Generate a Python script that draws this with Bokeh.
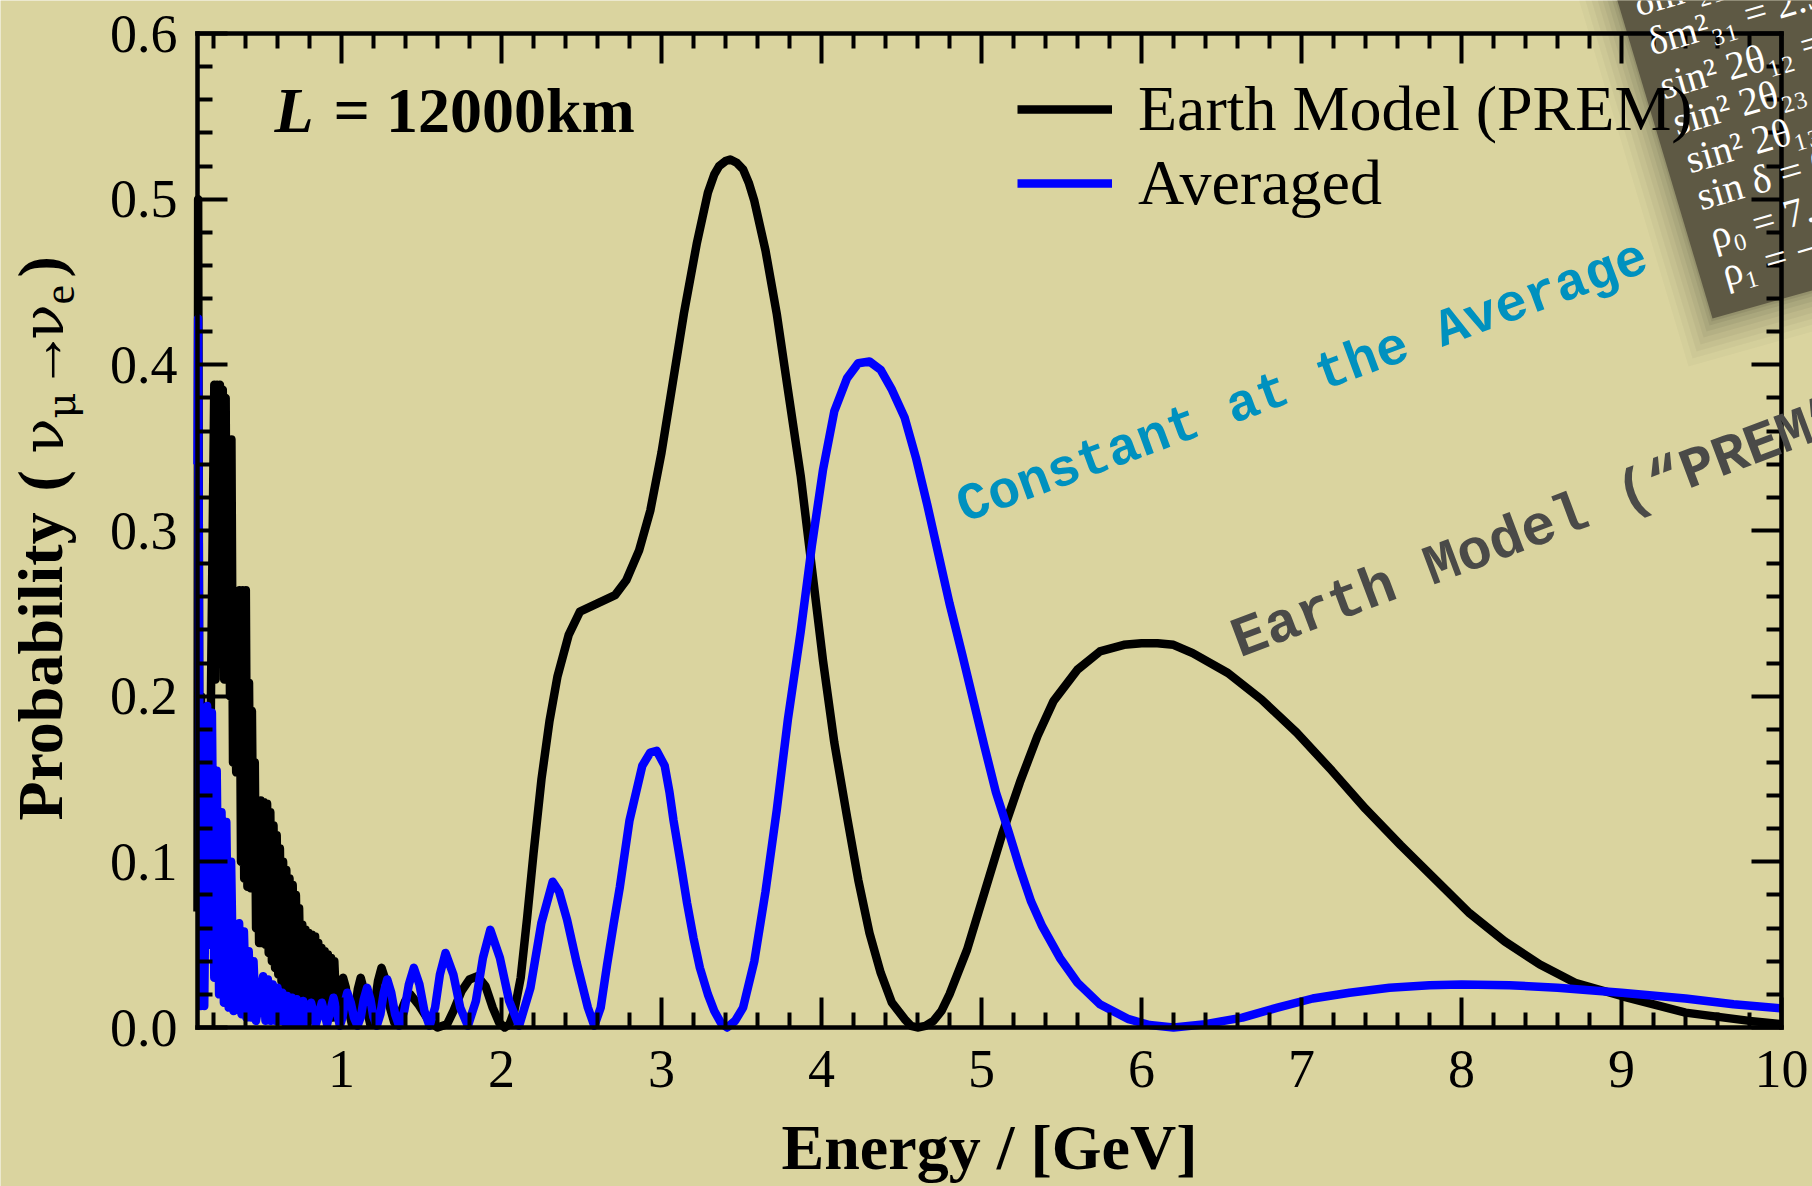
import math
from bokeh.plotting import figure
from bokeh.models import (Range1d, LinearAxis, FixedTicker, Legend, LegendItem,
                          Label, PolyAnnotation, PrintfTickFormatter)
from bokeh.embed import file_html
from bokeh.resources import INLINE

# ---------------- data ----------------
energy_prem = [
    0.100, 0.104, 0.110, 0.116, 0.122, 0.130, 0.140, 0.150, 0.160, 0.172,
    0.185, 0.195, 0.205, 0.213, 0.222, 0.231, 0.240, 0.249, 0.258, 0.267,
    0.276, 0.285, 0.294, 0.303, 0.312, 0.322, 0.332, 0.342, 0.352, 0.362,
    0.372, 0.382, 0.392, 0.402, 0.412, 0.422, 0.432, 0.440, 0.450, 0.458,
    0.466, 0.475, 0.485, 0.495, 0.505, 0.515, 0.525, 0.535, 0.545, 0.555,
    0.565, 0.575, 0.585, 0.595, 0.605, 0.615, 0.625, 0.635, 0.645, 0.655,
    0.665, 0.675, 0.685, 0.695, 0.705, 0.715, 0.725, 0.735, 0.745, 0.755,
    0.765, 0.775, 0.785, 0.795, 0.805, 0.815, 0.825, 0.835, 0.845, 0.855,
    0.865, 0.875, 0.885, 0.895, 0.905, 0.915, 0.925, 0.935, 0.945, 0.955,
    0.970, 0.985, 0.997, 1.010, 1.027, 1.046, 1.065, 1.084, 1.102, 1.120,
    1.139, 1.160, 1.180, 1.205, 1.228, 1.250, 1.277, 1.303, 1.330, 1.365,
    1.398, 1.430, 1.480, 1.540, 1.600, 1.660, 1.700, 1.750, 1.800, 1.850,
    1.900, 1.945, 1.985, 2.020, 2.050, 2.080, 2.120, 2.160, 2.200, 2.250,
    2.300, 2.350, 2.420, 2.490, 2.600, 2.710, 2.780, 2.860, 2.930, 3.000,
    3.070, 3.140, 3.220, 3.290, 3.330, 3.360, 3.400, 3.430, 3.470, 3.510,
    3.545, 3.580, 3.650, 3.720, 3.790, 3.870, 3.940, 4.010, 4.080, 4.160,
    4.230, 4.300, 4.370, 4.440, 4.520, 4.560, 4.600, 4.650, 4.700, 4.750,
    4.800, 4.910, 5.020, 5.130, 5.240, 5.350, 5.450, 5.600, 5.740, 5.890,
    6.000, 6.100, 6.200, 6.320, 6.540, 6.750, 6.970, 7.190, 7.400, 7.620,
    7.840, 8.050, 8.270, 8.490, 8.710, 9.000, 9.400, 9.800, 10.00,
]
prob_prem = [
    0.070, 0.500, 0.210, 0.070, 0.200, 0.100, 0.140, 0.050, 0.100, 0.060,
    0.210, 0.300, 0.388, 0.210, 0.388, 0.220, 0.388, 0.220, 0.385, 0.210,
    0.380, 0.210, 0.355, 0.200, 0.355, 0.160, 0.200, 0.154, 0.200, 0.264,
    0.100, 0.264, 0.090, 0.264, 0.085, 0.208, 0.084, 0.191, 0.085, 0.160,
    0.060, 0.137, 0.051, 0.137, 0.051, 0.136, 0.050, 0.135, 0.045, 0.130,
    0.040, 0.122, 0.036, 0.116, 0.032, 0.108, 0.028, 0.100, 0.025, 0.095,
    0.022, 0.090, 0.022, 0.086, 0.022, 0.080, 0.020, 0.072, 0.018, 0.062,
    0.016, 0.059, 0.016, 0.057, 0.015, 0.056, 0.014, 0.055, 0.012, 0.051,
    0.010, 0.048, 0.008, 0.046, 0.007, 0.044, 0.006, 0.042, 0.006, 0.040,
    0.006, 0.016, 0.026, 0.030, 0.024, 0.010, 0.002, 0.010, 0.023, 0.030,
    0.023, 0.010, 0.002, 0.012, 0.028, 0.036, 0.028, 0.012, 0.003, 0.008,
    0.016, 0.020, 0.014, 0.005, 0.000, 0.002, 0.010, 0.022, 0.029, 0.031,
    0.025, 0.012, 0.003, 0.000, 0.002, 0.010, 0.030, 0.066, 0.105, 0.150,
    0.185, 0.212, 0.237, 0.251, 0.256, 0.261, 0.270, 0.288, 0.312, 0.347,
    0.389, 0.431, 0.473, 0.504, 0.515, 0.520, 0.523, 0.524, 0.522, 0.518,
    0.510, 0.499, 0.469, 0.431, 0.385, 0.333, 0.277, 0.221, 0.172, 0.127,
    0.089, 0.057, 0.033, 0.015, 0.005, 0.001, 0.000, 0.001, 0.004, 0.010,
    0.020, 0.047, 0.082, 0.117, 0.148, 0.176, 0.197, 0.216, 0.227, 0.231,
    0.232, 0.232, 0.231, 0.226, 0.214, 0.198, 0.178, 0.155, 0.132, 0.110,
    0.089, 0.069, 0.052, 0.038, 0.027, 0.019, 0.009, 0.004, 0.002,
]

energy_avg = [
    0.100, 0.104, 0.112, 0.120, 0.130, 0.142, 0.160, 0.175, 0.190, 0.205,
    0.220, 0.235, 0.250, 0.265, 0.280, 0.295, 0.310, 0.325, 0.340, 0.360,
    0.375, 0.390, 0.405, 0.420, 0.435, 0.450, 0.465, 0.480, 0.510, 0.525,
    0.540, 0.555, 0.570, 0.585, 0.600, 0.615, 0.630, 0.645, 0.660, 0.675,
    0.690, 0.705, 0.720, 0.740, 0.760, 0.785, 0.810, 0.840, 0.877, 0.910,
    0.950, 0.990, 1.006, 1.020, 1.036, 1.058, 1.078, 1.100, 1.121, 1.139,
    1.160, 1.181, 1.199, 1.220, 1.243, 1.264, 1.286, 1.311, 1.335, 1.360,
    1.392, 1.421, 1.452, 1.487, 1.518, 1.550, 1.585, 1.615, 1.650, 1.699,
    1.742, 1.790, 1.840, 1.884, 1.930, 1.990, 2.048, 2.110, 2.181, 2.249,
    2.320, 2.360, 2.410, 2.470, 2.540, 2.580, 2.620, 2.660, 2.700, 2.740,
    2.800, 2.880, 2.930, 2.970, 3.020, 3.050, 3.075, 3.120, 3.160, 3.200,
    3.240, 3.290, 3.330, 3.370, 3.410, 3.460, 3.510, 3.580, 3.650, 3.720,
    3.790, 3.870, 3.940, 4.010, 4.080, 4.160, 4.230, 4.300, 4.370, 4.440,
    4.520, 4.590, 4.660, 4.730, 4.800, 4.880, 4.950, 5.020, 5.090, 5.170,
    5.240, 5.310, 5.380, 5.490, 5.600, 5.740, 5.920, 6.050, 6.200, 6.400,
    6.630, 6.850, 7.070, 7.300, 7.550, 7.800, 8.000, 8.300, 8.600, 9.000,
    9.400, 9.700, 10.00,
]
prob_avg = [
    0.340, 0.428, 0.160, 0.013, 0.090, 0.013, 0.194, 0.050, 0.190, 0.030,
    0.155, 0.020, 0.130, 0.015, 0.124, 0.012, 0.100, 0.010, 0.030, 0.063,
    0.008, 0.058, 0.006, 0.046, 0.006, 0.040, 0.004, 0.012, 0.031, 0.004,
    0.029, 0.004, 0.026, 0.004, 0.024, 0.004, 0.021, 0.003, 0.019, 0.003,
    0.018, 0.003, 0.017, 0.002, 0.016, 0.002, 0.015, 0.002, 0.015, 0.002,
    0.018, 0.001, 0.006, 0.015, 0.021, 0.015, 0.006, 0.001, 0.0065, 0.017,
    0.024, 0.017, 0.0065, 0.001, 0.008, 0.021, 0.029, 0.021, 0.008, 0.001,
    0.010, 0.026, 0.036, 0.026, 0.010, 0.001, 0.012, 0.032, 0.045, 0.032,
    0.012, 0.001, 0.016, 0.042, 0.059, 0.042, 0.016, 0.001, 0.024, 0.063,
    0.088, 0.082, 0.065, 0.039, 0.012, 0.001, 0.012, 0.038, 0.062, 0.085,
    0.125, 0.158, 0.166, 0.167, 0.158, 0.142, 0.125, 0.099, 0.075, 0.054,
    0.036, 0.020, 0.010, 0.003, 0.000, 0.004, 0.012, 0.040, 0.082, 0.131,
    0.186, 0.239, 0.291, 0.337, 0.372, 0.392, 0.401, 0.402, 0.397, 0.385,
    0.368, 0.344, 0.316, 0.286, 0.256, 0.225, 0.197, 0.169, 0.142, 0.118,
    0.096, 0.076, 0.061, 0.042, 0.027, 0.014, 0.005, 0.0015, 0.000, 0.002,
    0.006, 0.012, 0.0175, 0.021, 0.024, 0.0255, 0.026, 0.0255, 0.024, 0.021,
    0.0175, 0.014, 0.0115,
]

series_labels = ["Earth Model (PREM)", "Averaged"]
x_major_ticks = [1, 2, 3, 4, 5, 6, 7, 8, 9, 10]
y_major_ticks = [0.0, 0.1, 0.2, 0.3, 0.4, 0.5, 0.6]

# ---------------- geometry / styling ----------------
BG = "#DAD49F"
W, H = 1812, 1186
X0, X1, Y0, Y1 = 0.1, 10.0, 0.0, 0.6          # axis box in data units
FL, FR, FT, FB = 197, 1781, 33, 1027           # axis box on the canvas (px)
kx = (FR - FL) / (X1 - X0)
ky = (FB - FT) / (Y1 - Y0)
x_range = Range1d(X0 - FL / kx, X1 + (W - FR) / kx)
y_range = Range1d(Y0 - (H - FB) / ky, Y1 + FT / ky)

p = figure(width=W, height=H, x_range=x_range, y_range=y_range,
           output_backend="svg", toolbar_location=None,
           x_axis_location=None, y_axis_location=None,
           min_border=0, min_border_left=0, min_border_right=0,
           min_border_top=0, min_border_bottom=0,
           background_fill_color=BG, border_fill_color=BG, outline_line_color=None)
p.xgrid.visible = False
p.ygrid.visible = False

serif = "Liberation Serif"


def sx(cx):
    return cx


def sy(cy):
    return H - cy


x_minor = [round(0.2 * i, 1) for i in range(1, 51) if (i % 5) != 0]
y_minor = [round(0.02 * i, 2) for i in range(1, 30) if (i % 5) != 0]


def make_axis(fixed, bounds, major, minor, labels):
    ax = LinearAxis(fixed_location=fixed, bounds=bounds,
                    ticker=FixedTicker(ticks=major, minor_ticks=minor))
    ax.axis_line_width = 4.5
    ax.axis_line_color = "black"
    ax.axis_line_cap = "square"
    ax.major_tick_in = 30
    ax.major_tick_out = 0
    ax.minor_tick_in = 15
    ax.minor_tick_out = 0
    ax.major_tick_line_width = 4
    ax.minor_tick_line_width = 4
    ax.major_tick_line_color = "black"
    ax.minor_tick_line_color = "black"
    if labels:
        ax.major_label_text_font = serif
        ax.major_label_text_font_size = "54px"
        ax.major_label_text_color = "black"
    else:
        ax.major_label_text_color = None
    return ax


bottom_ax = make_axis(Y0, (X0, X1), x_major_ticks, x_minor, True)
bottom_ax.major_label_standoff = 23
bottom_ax.axis_label = "Energy / [GeV]"
bottom_ax.axis_label_text_font = serif
bottom_ax.axis_label_text_font_style = "bold"
bottom_ax.axis_label_text_font_size = "64px"
bottom_ax.axis_label_text_color = "black"
bottom_ax.axis_label_standoff = 22
p.add_layout(bottom_ax, "below")

left_ax = make_axis(X0, (Y0, Y1), y_major_ticks, y_minor, True)
left_ax.major_label_standoff = 20
left_ax.formatter = PrintfTickFormatter(format="%.1f")
p.add_layout(left_ax, "left")

p.add_layout(make_axis(Y1, (X0, X1), x_major_ticks, x_minor, False), "above")
p.add_layout(make_axis(X1, (Y0, Y1), y_major_ticks, y_minor, False), "right")

# ---------------- parameter card (top right) ----------------
card = [(1587, -100), (1712, 318), (1900, 265), (1900, -100)]
for dx, dy, a in [(-24, 48, 0.025), (-20, 40, 0.03), (-16, 33, 0.035), (-12, 26, 0.04),
                  (-9, 19, 0.045), (-6, 13, 0.05), (-3, 7, 0.06), (-1, 3, 0.07)]:
    p.add_layout(PolyAnnotation(xs=[sx(x + dx) for x, _ in card], ys=[sy(y + dy) for _, y in card],
                                xs_units="screen", ys_units="screen",
                                fill_color="black", fill_alpha=a, line_alpha=0, level="underlay"))
p.add_layout(PolyAnnotation(xs=[sx(x) for x, _ in card], ys=[sy(y) for _, y in card],
                            xs_units="screen", ys_units="screen",
                            fill_color="#5E5944", fill_alpha=1, line_alpha=0, level="underlay"))

card_lines = [
    ("δm²₂₁ =", 1634, 3),
    ("δm²₃₁ = 2.51", 1648, 42),
    ("sin² 2θ₁₂ =", 1660, 86),
    ("sin² 2θ₂₃ =", 1673, 122),
    ("sin² 2θ₁₃ =", 1686, 160),
    ("sin δ = 0", 1697, 197),
    ("ρ₀ = 7.5", 1710, 236),
    ("ρ₁ = −", 1722, 273),
]
for txt, cx, cy in card_lines:
    p.add_layout(Label(x=sx(cx), y=sy(cy), x_units="screen", y_units="screen", text=txt,
                       angle=16, angle_units="deg", text_font=serif, text_font_size="40px",
                       text_color="white", text_baseline="middle", level="overlay"))

# ---------------- curves ----------------
r_prem = p.line(energy_prem, prob_prem, line_color="black", line_width=8.5, line_join="round")
r_avg = p.line(energy_avg, prob_avg, line_color="#0000FF", line_width=8.5, line_join="round")

legend = Legend(items=[LegendItem(label=series_labels[0], renderers=[r_prem]),
                       LegendItem(label=series_labels[1], renderers=[r_avg])],
                location=(1017, 966), background_fill_alpha=0, border_line_alpha=0,
                label_text_font=serif, label_text_font_size="64px", label_text_color="black",
                glyph_width=95, glyph_height=66, label_height=66, spacing=0,
                padding=0, margin=0, label_standoff=26)
p.add_layout(legend)

# ---------------- texts ----------------
p.add_layout(Label(x=sx(274), y=sy(110), x_units="screen", y_units="screen", text="L",
                   text_font=serif, text_font_style="bold italic", text_font_size="64px",
                   text_color="black", text_baseline="middle"))
p.add_layout(Label(x=sx(333), y=sy(110), x_units="screen", y_units="screen", text="= 12000km",
                   text_font=serif, text_font_style="bold", text_font_size="64px",
                   text_color="black", text_baseline="middle"))

p.add_layout(Label(x=sx(959), y=sy(509), x_units="screen", y_units="screen",
                   text="Constant at the Average", angle=20.2, angle_units="deg",
                   text_font="Liberation Mono", text_font_style="bold", text_font_size="53px",
                   text_color="#0091BF", text_baseline="middle"))
p.add_layout(Label(x=sx(1234), y=sy(643), x_units="screen", y_units="screen",
                   text="Earth Model (“PREM”)", angle=20.6, angle_units="deg",
                   text_font="Liberation Mono", text_font_style="bold", text_font_size="57px",
                   text_color="#4A4A48", text_baseline="middle"))

# y axis title built from pieces (for the subscripts)
ylabel_parts = [
    ("Probability", 820, 40, serif, "bold", 64),
    ("(", 491, 40, serif, "bold", 64),
    ("ν", 453, 42, "DejaVu Serif", "normal", 58),
    ("μ", 418, 60, "DejaVu Serif", "normal", 40),
    ("→", 389, 42, serif, "normal", 60),
    ("ν", 339, 42, "DejaVu Serif", "normal", 58),
    ("e", 304, 59, serif, "normal", 44),
    (")", 277, 40, serif, "bold", 64),
]
for txt, cy, cx, font, style, size in ylabel_parts:
    p.add_layout(Label(x=sx(cx), y=sy(cy), x_units="screen", y_units="screen", text=txt,
                       angle=90, angle_units="deg", text_font=font, text_font_style=style,
                       text_font_size=f"{size}px", text_color="black", text_baseline="middle"))

open("out.html", "w").write(file_html(p, INLINE))
